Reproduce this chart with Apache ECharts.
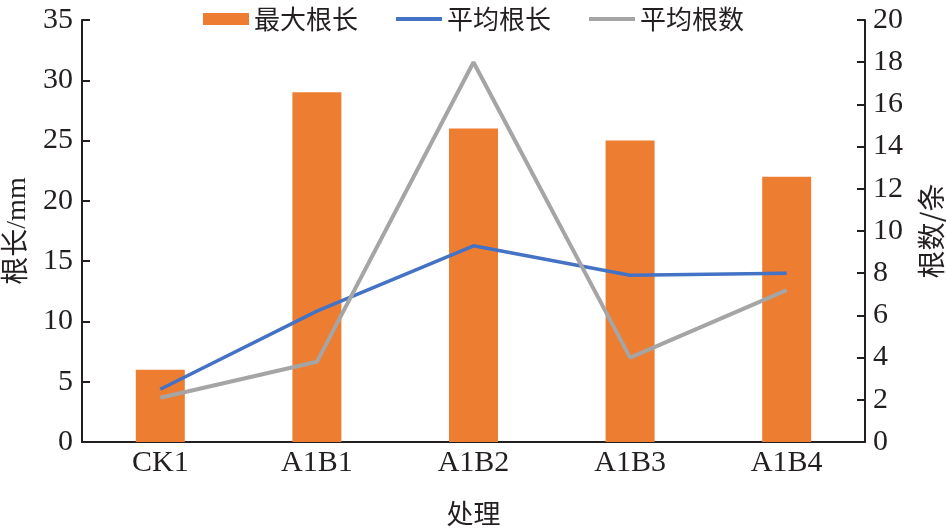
<!DOCTYPE html>
<html>
<head>
<meta charset="utf-8">
<script src="https://cdn.jsdelivr.net/npm/echarts@6/dist/echarts.min.js"></script>
<style>
  html, body { margin: 0; padding: 0; background: #fff; }
  #chart { width: 946px; height: 528px; }
</style>
</head>
<body>
<div id="chart"></div>
<script>
// categories and values
var categories = ['CK1', 'A1B1', 'A1B2', 'A1B3', 'A1B4'];
var maxRootLen = [6, 29, 26, 25, 22];          // 最大根长, left axis (mm)
var avgRootLen = [2.5, 6.2, 9.3, 7.9, 8.0];    // 平均根长, right axis
var avgRootNum = [2.1, 3.8, 18, 4.0, 7.2];     // 平均根数, right axis

var serif = "'Liberation Serif', 'Noto Sans CJK SC', serif";
var cjk = "'Noto Sans CJK SC', sans-serif";
var ink = '#231f20';
var lineIcon = 'path://M0,0 L46,0 L46,4 L0,4 Z';

var chart = echarts.init(document.getElementById('chart'));
chart.setOption({
  animation: false,
  backgroundColor: '#fff',
  grid: { left: 82, right: 81, top: 20, bottom: 86, outerBoundsMode: 'none', containLabel: false },
  legend: {
    top: 1,
    left: 198,
    itemWidth: 46,
    itemHeight: 12,
    itemGap: 38,
    textStyle: { fontFamily: cjk, fontSize: 26, color: ink },
    data: [
      { name: '最大根长', icon: 'rect' },
      { name: '平均根长', icon: lineIcon },
      { name: '平均根数', icon: lineIcon }
    ]
  },
  xAxis: {
    type: 'category',
    data: categories,
    name: '处理',
    nameLocation: 'middle',
    nameGap: 58,
    nameTextStyle: { fontFamily: cjk, fontSize: 27, color: ink },
    axisLine: { lineStyle: { color: ink, width: 2 } },
    axisTick: { show: false },
    axisLabel: { fontFamily: serif, fontSize: 30, color: ink, margin: 6 }
  },
  yAxis: [{
    type: 'value',
    min: 0, max: 35, interval: 5,
    name: '根长/mm',
    nameLocation: 'middle',
    nameRotate: 90,
    nameGap: 48,
    nameTextStyle: { fontFamily: serif, fontSize: 28, color: ink },
    splitLine: { show: false },
    axisLine: { show: true, lineStyle: { color: ink, width: 2 } },
    axisTick: { show: true, inside: true, length: 8, lineStyle: { color: ink, width: 2 } },
    axisLabel: { fontFamily: serif, fontSize: 30, color: ink, margin: 9 }
  }, {
    type: 'value',
    min: 0, max: 20, interval: 2,
    name: '根数/条',
    nameLocation: 'middle',
    nameRotate: 90,
    nameGap: 52,
    nameTextStyle: { fontFamily: cjk, fontSize: 28, color: ink },
    splitLine: { show: false },
    axisLine: { show: true, lineStyle: { color: ink, width: 2 } },
    axisTick: { show: true, inside: true, length: 8, lineStyle: { color: ink, width: 2 } },
    axisLabel: { fontFamily: serif, fontSize: 30, color: ink, margin: 8 }
  }],
  series: [{
    name: '最大根长',
    type: 'bar',
    yAxisIndex: 0,
    barWidth: 49,
    itemStyle: { color: '#ED7D31' },
    data: maxRootLen
  }, {
    name: '平均根长',
    type: 'line',
    yAxisIndex: 1,
    symbol: 'none',
    lineStyle: { color: '#4472C4', width: 3.5 },
    itemStyle: { color: '#4472C4' },
    data: avgRootLen
  }, {
    name: '平均根数',
    type: 'line',
    yAxisIndex: 1,
    symbol: 'none',
    lineStyle: { color: '#A5A5A5', width: 4 },
    itemStyle: { color: '#A5A5A5' },
    data: avgRootNum
  }]
});
</script>
</body>
</html>
